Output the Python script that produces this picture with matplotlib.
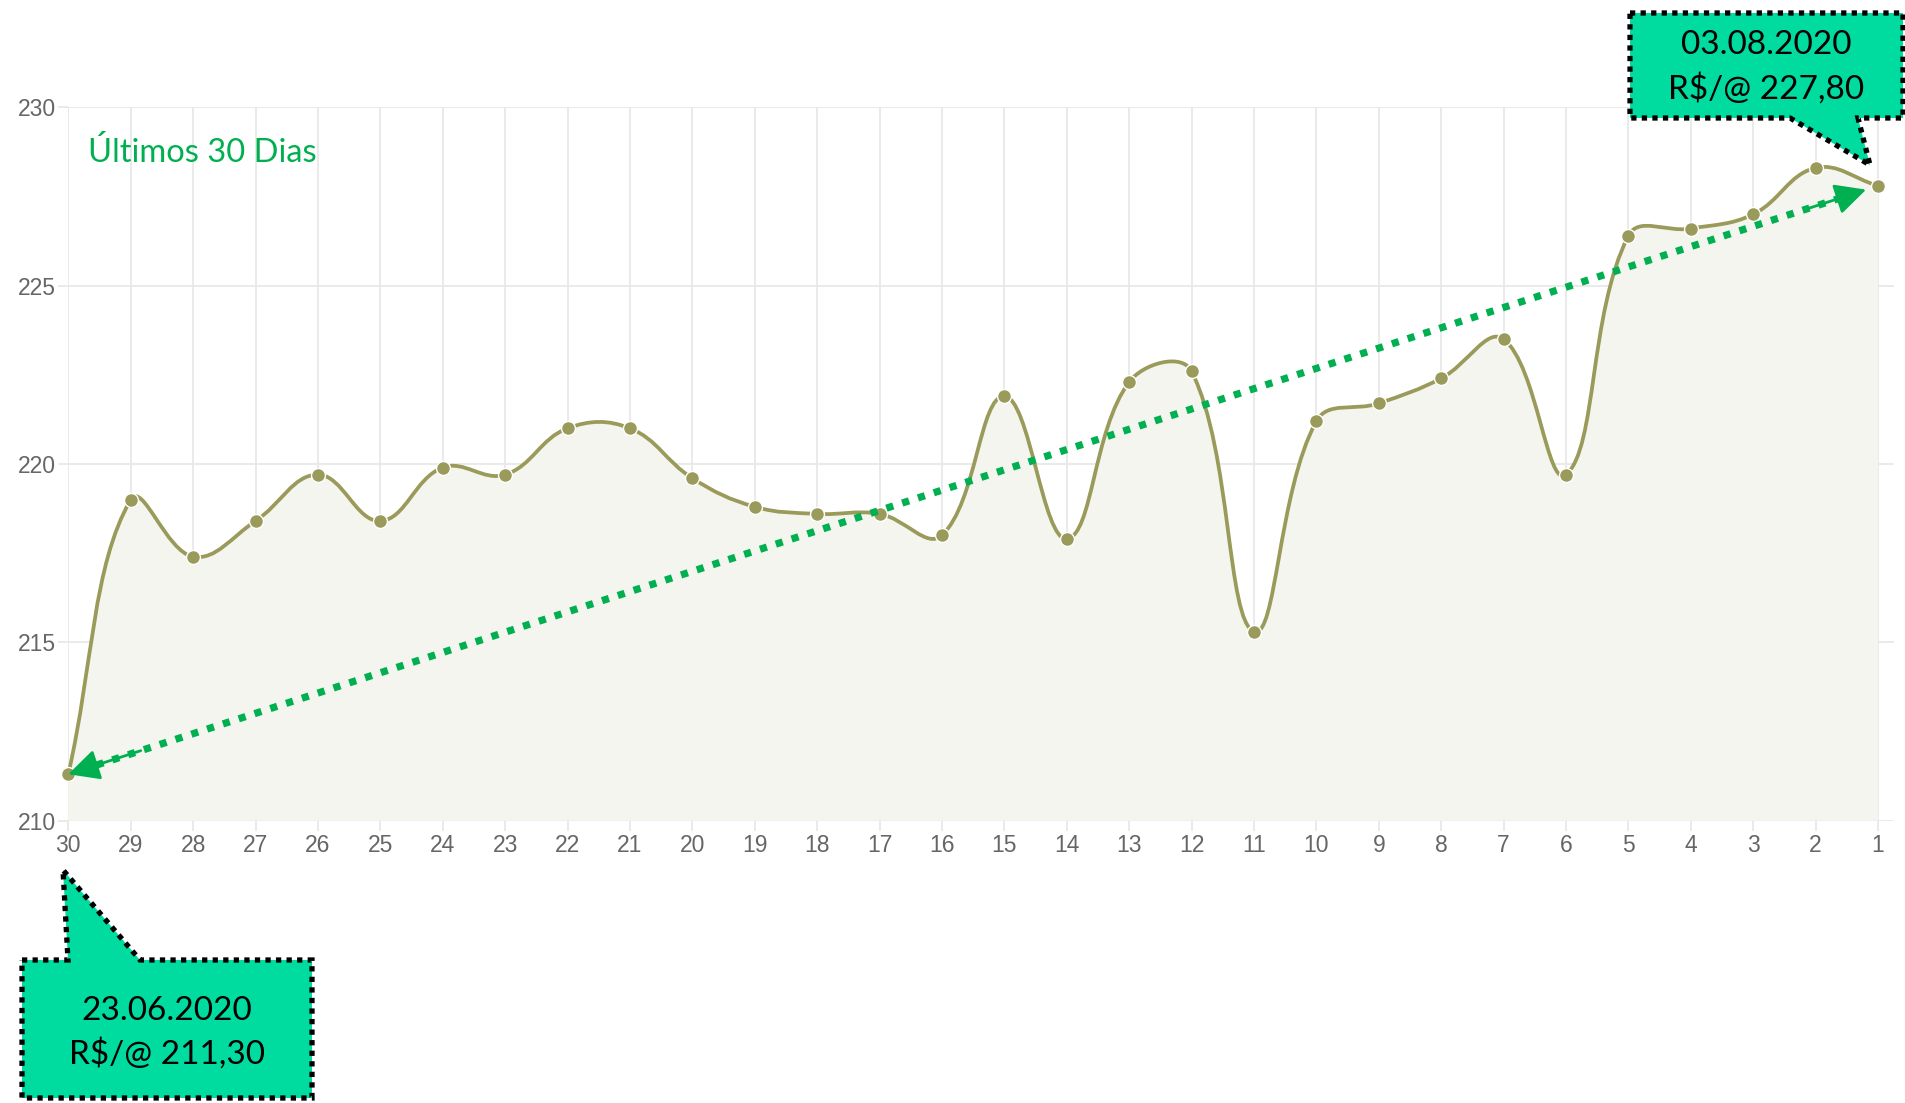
import matplotlib
matplotlib.use("Agg")
import matplotlib.pyplot as plt
from matplotlib.path import Path
from matplotlib.patches import PathPatch, Polygon
import numpy as np

# ---------------- data ----------------
day_labels = ["30", "29", "28", "27", "26", "25", "24", "23", "22", "21",
              "20", "19", "18", "17", "16", "15", "14", "13", "12", "11",
              "10", "9", "8", "7", "6", "5", "4", "3", "2", "1"]
prices = [211.3, 219.0, 217.4, 218.4, 219.7, 218.4, 219.9, 219.7, 221.0, 221.0,
          219.6, 218.8, 218.6, 218.6, 218.0, 221.9, 217.9, 222.3, 222.6, 215.3,
          221.2, 221.7, 222.4, 223.5, 219.7, 226.4, 226.6, 227.0, 228.3, 227.8]
y_ticks = [210, 215, 220, 225, 230]
title_text = "Últimos 30 Dias"
start_label = ["23.06.2020", "R$/@ 211,30"]
end_label = ["03.08.2020", "R$/@ 227,80"]

# ---------------- style ----------------
W, H = 1905, 1103
DPI = 100
LINE_C = "#9a9a5a"
FILL_C = "#f4f5ef"
GRID_C = "#e8e8e8"
TICK_C = "#666666"
ARROW_C = "#00b050"
CALLOUT_C = "#00dba0"

fig = plt.figure(figsize=(W / DPI, H / DPI), dpi=DPI)

x0_px, x29_px = 68.3, 1878.0
ytop_px, ybot_px = 107.3, 820.6
px_per_idx = (x29_px - x0_px) / 29
xmax = 29.25
ax = fig.add_axes([x0_px / W, 1 - ybot_px / H,
                   (xmax * px_per_idx) / W, (ybot_px - ytop_px) / H])
ax.set_xlim(0, xmax)
ax.set_ylim(210, 230)

x = np.arange(len(prices))
y = np.array(prices, dtype=float)

# Chart.js-like bezier (tension 0.4), computed in pixel-scaled space
sx = px_per_idx
sy = (ybot_px - ytop_px) / 20.0
P = np.column_stack([x * sx, y * sy])
t = 0.4
n = len(P)
cp_prev = np.zeros_like(P)
cp_next = np.zeros_like(P)
for i in range(n):
    prev = P[i - 1] if i > 0 else P[i]
    nxt = P[i + 1] if i < n - 1 else P[i]
    d01 = np.hypot(*(P[i] - prev))
    d12 = np.hypot(*(nxt - P[i]))
    tot = d01 + d12
    s01 = d01 / tot if tot else 0
    s12 = d12 / tot if tot else 0
    fa, fb = t * s01, t * s12
    cp_prev[i] = P[i] - fa * (nxt - prev)
    cp_next[i] = P[i] + fb * (nxt - prev)
cp_prev[:, 1] = np.clip(cp_prev[:, 1], 210 * sy, 230 * sy)
cp_next[:, 1] = np.clip(cp_next[:, 1], 210 * sy, 230 * sy)

verts = [P[0]]
codes = [Path.MOVETO]
for i in range(n - 1):
    verts += [cp_next[i], cp_prev[i + 1], P[i + 1]]
    codes += [Path.CURVE4] * 3
verts = np.array(verts) / np.array([sx, sy])

curve = Path(verts, codes)
fill_verts = np.vstack([verts, [[x[-1], 210], [x[0], 210], [x[0], 210]]])
fill_codes = codes + [Path.LINETO, Path.LINETO, Path.CLOSEPOLY]
ax.add_patch(PathPatch(Path(fill_verts, fill_codes), facecolor=FILL_C,
                       edgecolor="none", zorder=1))
ax.add_patch(PathPatch(curve, facecolor="none", edgecolor=LINE_C, lw=2.7,
                       zorder=3, clip_on=False))
ax.plot(x, y, "o", ms=10.0, mfc=LINE_C, mec="white", mew=1.0, zorder=4,
        clip_on=False)

# grid / ticks
ax.set_xticks(x)
ax.set_xticklabels(day_labels)
ax.set_yticks(y_ticks)
ax.grid(True, color=GRID_C, lw=1.3, zorder=0)
ax.set_axisbelow(True)
for s in ax.spines.values():
    s.set_visible(False)
ax.tick_params(axis="both", colors=GRID_C, length=7, width=1.3,
               labelcolor=TICK_C, labelsize=16.5)
ax.tick_params(axis="x", pad=3)
ax.tick_params(axis="y", pad=2)
for lab in ax.get_xticklabels() + ax.get_yticklabels():
    lab.set_fontfamily(["Liberation Sans", "DejaVu Sans"])

# title inside
ax.text(88 / W, 1 - 152 / H, title_text, transform=fig.transFigure,
        fontsize=23.5, color=ARROW_C, family=["Lato", "DejaVu Sans"],
        ha="left", va="center", zorder=5)

# green dotted trend arrow between first and last price
p_start = (x[0], y[0])
p_end = (x[-1], y[-1])
ax.annotate("", xy=p_start, xytext=p_end,
            arrowprops=dict(arrowstyle="-", lw=5.2, color=ARROW_C,
                            linestyle=(0, (1, 1.3)), capstyle="butt",
                            shrinkA=16, shrinkB=12),
            zorder=5, annotation_clip=False)
dvec = np.array(p_end) - np.array(p_start)
for tip, back, shr in [(p_start, np.array(p_start) + 0.04 * dvec, 0),
                       (p_end, np.array(p_end) - 0.04 * dvec, 9)]:
    ax.annotate("", xy=tip, xytext=tuple(back),
                arrowprops=dict(arrowstyle="-|>,head_length=1.9,head_width=0.95",
                                lw=2, color=ARROW_C, shrinkA=0, shrinkB=shr),
                zorder=6, annotation_clip=False)


# callouts (figure pixel layout)
def fpx(pts):
    return [(px / W, 1 - py / H) for px, py in pts]


callout_end = [(1630, 13), (1903, 13), (1903, 118), (1858, 118), (1870, 165),
               (1790, 118), (1630, 118)]
callout_start = [(22, 960), (68, 960), (63, 870), (140, 960), (312, 960),
                 (312, 1098), (22, 1098)]
for pts in (callout_end, callout_start):
    poly = Polygon(fpx(pts), closed=True, transform=fig.transFigure,
                   facecolor=CALLOUT_C, edgecolor="black", lw=3.8,
                   linestyle=(0, (1, 1)), joinstyle="miter", zorder=10)
    poly.set_capstyle("butt")
    fig.add_artist(poly)

for lines, cx, cys in [(end_label, 1766, (45, 89)),
                       (start_label, 167, (1011, 1054))]:
    for txt, cy in zip(lines, cys):
        fig.text(cx / W, 1 - cy / H, txt, fontsize=24, color="black",
                 family=["Lato", "DejaVu Sans"], ha="center", va="center",
                 zorder=11)

fig.savefig("out.png", dpi=DPI)
